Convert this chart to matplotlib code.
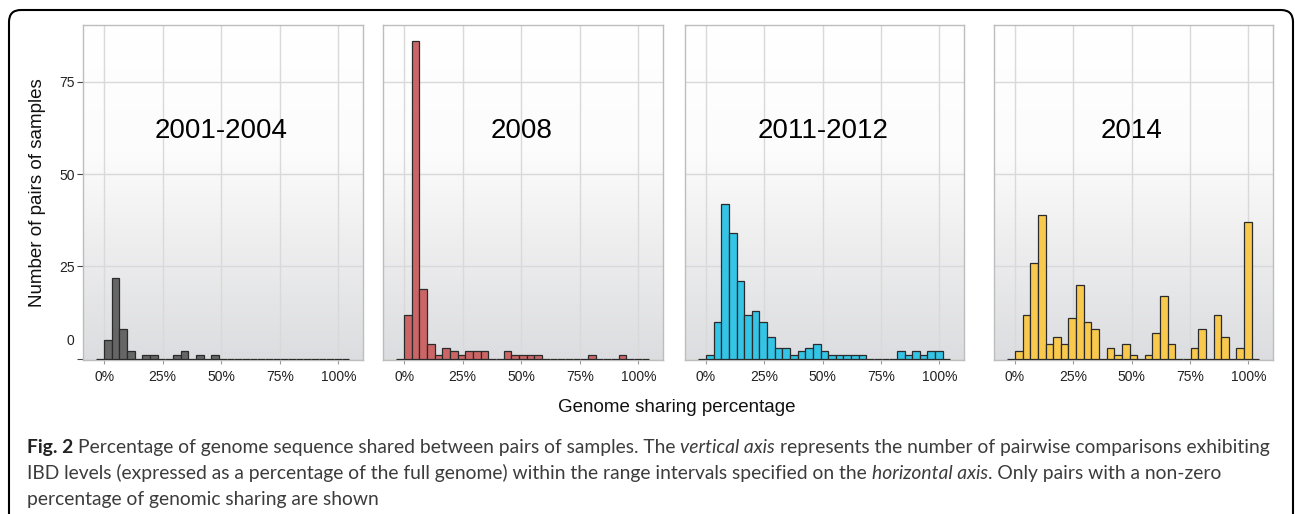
import numpy as np
import matplotlib
matplotlib.use("Agg")
import matplotlib.pyplot as plt
from matplotlib.colors import LinearSegmentedColormap
from matplotlib.patches import FancyBboxPatch
from matplotlib.transforms import IdentityTransform

# histogram bins (percent of genome shared); first bin is the empty one left of 0%
bin_width = 3.27
bin_start = -3.27

titles = ["2001-2004", "2008", "2011-2012", "2014"]
colors = ["#666666", "#cc6666", "#33c4e6", "#f8c94c"]

counts_2001_2004 = [0, 5, 22, 8, 2, 0, 1, 1, 0, 0, 1, 2, 0, 1, 0, 1, 0,
                    0, 0, 0, 0, 0, 0, 0, 0, 0, 0, 0, 0, 0, 0, 0, 0]
counts_2008 = [0, 12, 86, 19, 4, 1, 3, 2, 1, 2, 2, 2, 0, 0, 2, 1, 1,
               1, 1, 0, 0, 0, 0, 0, 0, 1, 0, 0, 0, 1, 0, 0, 0]
counts_2011_2012 = [0, 1, 10, 42, 34, 21, 12, 13, 10, 6, 3, 3, 1, 2, 3, 4, 2,
                    1, 1, 1, 1, 1, 0, 0, 0, 0, 2, 1, 2, 1, 2, 2, 0]
counts_2014 = [0, 2, 12, 26, 39, 4, 6, 4, 11, 20, 10, 8, 0, 3, 1, 4, 1,
               0, 1, 7, 17, 4, 0, 0, 3, 8, 0, 12, 6, 0, 3, 37, 0]
all_counts = [counts_2001_2004, counts_2008, counts_2011_2012, counts_2014]

x_ticks = [0, 25, 50, 75, 100]
x_tick_labels = ["0%", "25%", "50%", "75%", "100%"]
y_ticks = [0, 25, 50, 75]

caption_lines = [
    [("Fig. 2", "bold"), ("Percentage of genome sequence shared between pairs of samples. The", "normal"),
     ("vertical axis", "italic"), ("represents the number of pairwise comparisons exhibiting", "normal")],
    [("IBD levels (expressed as a percentage of the full genome) within the range intervals specified on the", "normal"),
     ("horizontal axis", "italic"), (". Only pairs with a non-zero", "normal_nospace")],
    [("percentage of genomic sharing are shown", "normal")],
]

W, H = 1295, 514
fig = plt.figure(figsize=(W / 100, H / 100), dpi=100)
plt.rcParams["font.family"] = ["Liberation Sans", "DejaVu Sans"]

# panel boxes in pixels: left, right (top=25, bottom=360)
panel_px = [(83, 363), (383, 663), (685, 964), (994, 1273)]
top_px, bot_px = 25, 360

bg = LinearSegmentedColormap.from_list(
    "bg", [(0, "#dcdde0"), (0.35, "#eeeeef"), (0.62, "#fcfcfc"), (1, "#ffffff")])

for i, (l, r) in enumerate(panel_px):
    ax = fig.add_axes([l / W, 1 - bot_px / H, (r - l) / W, (bot_px - top_px) / H])
    ax.imshow(np.linspace(1, 0, 256)[:, None], cmap=bg, aspect="auto",
              extent=(0, 1, 0, 1), transform=ax.transAxes, zorder=0)
    lefts = bin_start + bin_width * np.arange(len(all_counts[i]))
    ax.bar(lefts, all_counts[i], width=bin_width, align="edge", color=colors[i],
           edgecolor="#2b2b2b", linewidth=0.9, zorder=3)
    ax.set_xlim(-9, 110.5)
    ax.set_ylim(-0.3, 90.3)
    ax.set_xticks(x_ticks)
    ax.set_xticklabels(x_tick_labels)
    ax.set_yticks(y_ticks)
    ax.set_axisbelow(True)
    ax.grid(True, color="#d9d9d9", linewidth=1)
    for s in ax.spines.values():
        s.set_color("#bdbdbd")
        s.set_linewidth(1)
    ax.tick_params(axis="x", length=3, color="#9a9a9a", labelsize=10,
                   labelcolor="#222222", pad=4.5)
    if i == 0:
        ax.set_yticklabels(["", "25", "50", "75"])
        ax.tick_params(axis="y", length=4, color="#444444", labelsize=10,
                       labelcolor="#222222", pad=2)
        ax.annotate("0", xy=(0, 0), xycoords=("axes fraction", "data"),
                    xytext=(-6, 13), textcoords="offset points",
                    ha="right", va="center", fontsize=10, color="#222222")
    else:
        ax.tick_params(axis="y", left=False, labelleft=False)
    ax.text(50, 0.683, titles[i], transform=ax.get_xaxis_transform(),
            ha="center", va="center", fontsize=20, color="black", zorder=5)

fig.text(38 / W, 1 - 193 / H, "Number of pairs of samples", rotation=90,
         ha="center", va="center", fontsize=13.5, color="#111111")
fig.text(677 / W, 1 - 408 / H, "Genome sharing percentage",
         ha="center", va="center", fontsize=13.5, color="#111111")

# outer rounded frame (runs off the bottom of the image)
frame = FancyBboxPatch((9, -40), 1284, H - 10 + 40,
                       boxstyle="round,pad=0,rounding_size=12",
                       transform=IdentityTransform(), facecolor="none",
                       edgecolor="black", linewidth=1.5, clip_on=False)
fig.add_artist(frame)

# caption with mixed bold / italic runs
renderer = fig.canvas.get_renderer()
cap_font = "Lato"
cap_color = "#3c3c3c"


def text_width(s, size, **kw):
    t = fig.text(0, 0, s, fontsize=size, fontfamily=cap_font, transform=IdentityTransform(), **kw)
    w = t.get_window_extent(renderer).width
    t.remove()
    return w


def line_width(runs, size):
    sp = text_width("x x", size) - text_width("xx", size)
    total = 0
    for j, (s, st) in enumerate(runs):
        kw = {"fontweight": "bold"} if st == "bold" else ({"fontstyle": "italic"} if st == "italic" else {})
        if j > 0 and st != "normal_nospace":
            total += sp
        total += text_width(s, size, **kw)
    return total


base = 12
cap_size = base * (1266 - 27) / line_width(caption_lines[0], base)
space_w = text_width("x x", cap_size) - text_width("xx", cap_size)

baselines = [453, 479, 505]
for runs, yb in zip(caption_lines, baselines):
    x = 27
    for j, (s, st) in enumerate(runs):
        kw = {}
        col = cap_color
        if st == "bold":
            kw["fontweight"] = "bold"
            col = "#222222"
        elif st == "italic":
            kw["fontstyle"] = "italic"
        if j > 0 and st != "normal_nospace":
            x += space_w
        t = fig.text(x, H - yb, s, fontsize=cap_size, fontfamily=cap_font, color=col,
                     va="baseline", ha="left", transform=IdentityTransform(), **kw)
        x = t.get_window_extent(renderer).x1

fig.savefig("out.png", dpi=100)
